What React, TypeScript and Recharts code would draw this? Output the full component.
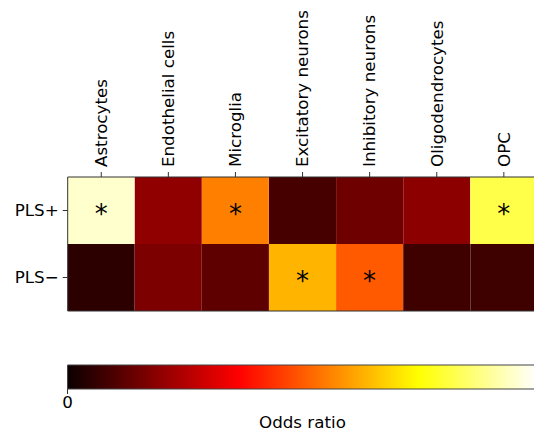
import React from 'react';
import { BarChart, Bar, XAxis, YAxis, Cell, LabelList, ReferenceLine } from 'recharts';

const CELL_TYPES = ['Astrocytes', 'Endothelial cells', 'Microglia', 'Excitatory neurons', 'Inhibitory neurons', 'Oligodendrocytes', 'OPC'];
const ROW_LABELS = ['PLS+', 'PLS\u2212'];
const PLS_PLUS_OR = [4.75, 1.0, 2.78, 0.45, 0.75, 0.97, 4.1];
const PLS_MINUS_OR = [0.26, 0.85, 0.63, 3.17, 2.5, 0.39, 0.39];
const PLS_PLUS_SIG = [true, false, true, false, false, false, true];
const PLS_MINUS_SIG = [false, false, false, true, true, false, false];
const OR_MIN = 0;
const OR_MAX = 5;
const COLORBAR_TICKS = [0];
const ROW_SPAN = 1;

const FONT = '"DejaVu Sans", sans-serif';
const FS = 16.7;

function hot(v: number): string {
  const t = Math.max(0, Math.min(1, (v - OR_MIN) / (OR_MAX - OR_MIN)));
  const r = t < 0.365079 ? 0.0416 + (1 - 0.0416) * (t / 0.365079) : 1;
  const g = t < 0.365079 ? 0 : t < 0.746032 ? (t - 0.365079) / (0.746032 - 0.365079) : 1;
  const b = t < 0.746032 ? 0 : (t - 0.746032) / (1 - 0.746032);
  const h = (x: number) => Math.round(Math.max(0, Math.min(1, x)) * 255).toString(16).padStart(2, '0');
  return `#${h(r)}${h(g)}${h(b)}`;
}

const data = CELL_TYPES.map((name) => ({
  name,
  plus: ROW_SPAN,
  minus: ROW_SPAN,
}));

const XTick = (props: any) => {
  const { x, y, payload } = props;
  return (
    <text x={x} y={y} dy="0.35em" transform={`rotate(-90 ${x} ${y})`} textAnchor="start" fontSize={FS} fill="#000" fontFamily={FONT}>
      {payload.value}
    </text>
  );
};

const starLabel = (sig: boolean[]) => (props: any) => {
  const { x, y, width, height, index } = props;
  if (!sig[index]) return null;
  return (
    <text x={x + width / 2} y={y + height / 2 + 12} textAnchor="middle" fontSize={26} fill="#000" fontFamily={FONT}>
      *
    </text>
  );
};

export default function App() {
  return (
    <div style={{ position: 'absolute', left: 0, top: 0, width: 534, height: 432, overflow: 'hidden', background: '#fff', fontFamily: FONT }}>
      <div style={{ position: 'absolute', left: 0, top: 0 }}>
        <BarChart
          width={560}
          height={330}
          data={data}
          margin={{ top: 7, left: 7.7, right: 22.6, bottom: 19 }}
          barCategoryGap={0}
          barGap={0}
        >
          <XAxis
            dataKey="name"
            orientation="top"
            height={170}
            interval={0}
            tick={<XTick />}
            tickSize={5}
            tickMargin={5}
            axisLine={{ stroke: '#333', strokeWidth: 1 }}
            tickLine={{ stroke: '#333', strokeWidth: 1 }}
          />
          <YAxis
            type="number"
            domain={[0, 2]}
            ticks={[0.5, 1.5]}
            tickFormatter={(v: number) => (v > 1 ? ROW_LABELS[0] : ROW_LABELS[1])}
            width={60}
            tickSize={5}
            tickMargin={4}
            tick={{ fontSize: FS, fill: '#000', fontFamily: FONT }}
            axisLine={{ stroke: '#333', strokeWidth: 1 }}
            tickLine={{ stroke: '#333', strokeWidth: 1 }}
          />
          <Bar dataKey="minus" stackId="s" isAnimationActive={false}>
            {PLS_MINUS_OR.map((v, i) => (
              <Cell key={`m${i}`} fill={hot(v)} />
            ))}
            <LabelList dataKey="minus" content={starLabel(PLS_MINUS_SIG)} />
          </Bar>
          <Bar dataKey="plus" stackId="s" isAnimationActive={false}>
            {PLS_PLUS_OR.map((v, i) => (
              <Cell key={`p${i}`} fill={hot(v)} />
            ))}
            <LabelList dataKey="plus" content={starLabel(PLS_PLUS_SIG)} />
          </Bar>
          <ReferenceLine y={0} stroke="#333" strokeWidth={1} />
        </BarChart>
      </div>
      <div style={{ position: 'absolute', left: 0, top: 330 }}>
        <BarChart
          width={560}
          height={110}
          layout="vertical"
          data={[{ name: 'cb', v: OR_MAX }]}
          margin={{ top: 35, left: 67.5, right: 22.6, bottom: 21 }}
          barCategoryGap={0}
        >
          <defs>
            <linearGradient id="hotGrad" x1="0" y1="0" x2="1" y2="0">
              <stop offset="0" stopColor={hot(OR_MIN)} />
              <stop offset="0.365079" stopColor="#ff0000" />
              <stop offset="0.746032" stopColor="#ffff00" />
              <stop offset="1" stopColor="#ffffff" />
            </linearGradient>
          </defs>
          <XAxis
            type="number"
            domain={[OR_MIN, OR_MAX]}
            ticks={COLORBAR_TICKS}
            height={30}
            tickSize={5}
            tickMargin={2}
            tick={{ fontSize: FS, fill: '#000', fontFamily: FONT }}
            axisLine={false}
            tickLine={{ stroke: '#333', strokeWidth: 1 }}
            label={{ value: 'Odds ratio', position: 'insideBottom', offset: -9, fontSize: FS, fill: '#000', fontFamily: FONT }}
          />
          <YAxis type="category" dataKey="name" hide />
          <Bar dataKey="v" fill="url(#hotGrad)" stroke="#444" strokeWidth={1} isAnimationActive={false} />
        </BarChart>
      </div>
    </div>
  );
}
